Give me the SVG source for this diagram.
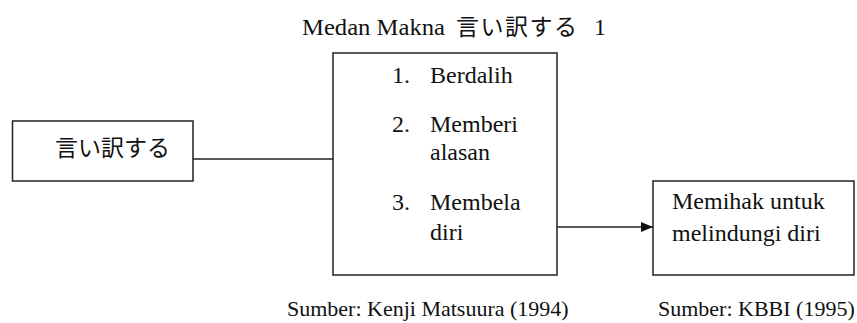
<svg xmlns="http://www.w3.org/2000/svg" width="857" height="323" viewBox="0 0 857 323">
<style>
.box{fill:#fff;stroke:#222;stroke-width:1.5}
.t{font-family:"Liberation Serif","Times New Roman",serif;font-size:24px;fill:#111}
.s{font-family:"Liberation Serif","Times New Roman",serif;font-size:22px;fill:#111}
.j{font-family:"Noto Sans CJK JP","Noto Sans CJK SC",sans-serif;font-size:23px;fill:#111}
.c{stroke:#222;stroke-width:1.5;fill:none}
</style>
<defs>
<marker id="arr" markerWidth="12" markerHeight="10" refX="12" refY="5" orient="auto" markerUnits="userSpaceOnUse">
<path d="M0,0 L12,5 L0,10 Z" fill="#111"/>
</marker>
</defs>
<g id="title">
<text class="t" x="302" y="35" font-size="23" textLength="143" lengthAdjust="spacingAndGlyphs">Medan Makna</text>
<text class="j" x="456" y="35" letter-spacing="1.5">言い訳する</text>
<text class="t" x="594" y="35" font-size="23">1</text>
</g>
<g id="connectors">
<line class="c" x1="193" y1="159" x2="333" y2="159"/>
<line class="c" x1="557" y1="227" x2="653" y2="227" marker-end="url(#arr)"/>
</g>
<g id="node-source">
<rect class="box" x="12.5" y="121" width="180.5" height="60"/>
<text class="j" x="55" y="156" font-size="24">言い訳する</text>
</g>
<g id="node-meanings">
<rect class="box" x="333" y="53" width="224" height="222"/>
<text class="t" x="392" y="83">1.</text>
<text class="t" x="430" y="83">Berdalih</text>
<text class="t" x="392" y="132">2.</text>
<text class="t" x="430" y="132">Memberi</text>
<text class="t" x="430" y="160">alasan</text>
<text class="t" x="392" y="210">3.</text>
<text class="t" x="430" y="210">Membela</text>
<text class="t" x="430" y="240">diri</text>
</g>
<g id="node-kbbi">
<rect class="box" x="653" y="181" width="201" height="94"/>
<text class="t" x="672" y="209">Memihak untuk</text>
<text class="t" x="672" y="241">melindungi diri</text>
</g>
<g id="sources">
<text class="s" x="287" y="316">Sumber: Kenji Matsuura (1994)</text>
<text class="s" x="658" y="316">Sumber: KBBI (1995)</text>
</g>
</svg>
